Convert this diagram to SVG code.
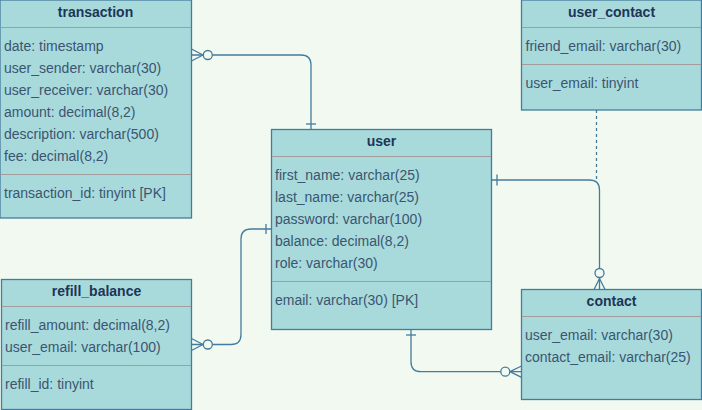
<svg xmlns="http://www.w3.org/2000/svg" width="702" height="410" viewBox="0 0 702 410">
<style>
.box{fill:#a8dadc;stroke:#457b9d;stroke-width:1.3}
.div{stroke:#a39c9c;stroke-width:1}
.t{font-family:"Liberation Sans",Arial,sans-serif;font-size:14px;font-weight:bold;fill:#1d3557;text-anchor:middle}
.a{font-family:"Liberation Sans",Arial,sans-serif;font-size:14px;fill:#3b5570}
.c{fill:none;stroke:#457b9d;stroke-width:1.3}
.o{fill:#f1f9f0;stroke:#457b9d;stroke-width:1.3}
</style>
<rect width="702" height="410" fill="#f1f9f0"/>
<g id="connectors">
<path class="c" d="M191.5,55 H301 Q311,55 311,65 V129.5"/>
<path class="c" d="M191.5,49 L203,55 M191.5,61 L203,55"/>
<circle class="o" cx="207.8" cy="55" r="4.5"/>
<path class="c" d="M306,124 H316"/>
<path class="c" d="M191.5,344.5 H231 Q241,344.5 241,334.5 V239 Q241,229 251,229 H271.5"/>
<path class="c" d="M191.5,338.5 L203,344.5 M191.5,350.5 L203,344.5"/>
<circle class="o" cx="207.8" cy="344.5" r="4.5"/>
<path class="c" d="M266,224 V234"/>
<path class="c" d="M411,329.5 V361.7 Q411,371.7 421,371.7 H521.5"/>
<path class="c" d="M406,335 H416"/>
<path class="c" d="M521.5,366 L510,371.7 M521.5,377.4 L510,371.7"/>
<circle class="o" cx="505.3" cy="371.7" r="4.5"/>
<path class="c" d="M491.5,180 H589.5 Q599.5,180 599.5,190 V289.5"/>
<path class="c" d="M497,174.5 V185.5"/>
<path class="c" d="M594,289.5 L599.5,278.5 M605,289.5 L599.5,278.5"/>
<circle class="o" cx="599.5" cy="273" r="4.5"/>
<path class="c" d="M596.5,110 V180" stroke-dasharray="3,3"/>
</g>
<g id="transaction">
<rect class="box" x="0" y="0" width="191.5" height="218"/>
<text class="t" x="95.5" y="17">transaction</text>
<line class="div" x1="0.5" y1="27.5" x2="191" y2="27.5"/>
<text class="a" x="4" y="51">date: timestamp</text>
<text class="a" x="4" y="73">user_sender: varchar(30)</text>
<text class="a" x="4" y="95">user_receiver: varchar(30)</text>
<text class="a" x="4" y="117">amount: decimal(8,2)</text>
<text class="a" x="4" y="139">description: varchar(500)</text>
<text class="a" x="4" y="161">fee: decimal(8,2)</text>
<line class="div" x1="0.5" y1="174.5" x2="191" y2="174.5"/>
<text class="a" x="4" y="198">transaction_id: tinyint [PK]</text>
</g>
<g id="user_contact">
<rect class="box" x="521.5" y="0" width="180" height="110"/>
<text class="t" x="611.5" y="17">user_contact</text>
<line class="div" x1="522" y1="27.5" x2="701" y2="27.5"/>
<text class="a" x="525.5" y="51">friend_email: varchar(30)</text>
<line class="div" x1="522" y1="64.5" x2="701" y2="64.5"/>
<text class="a" x="525.5" y="88">user_email: tinyint</text>
</g>
<g id="user">
<rect class="box" x="271.5" y="129.5" width="220" height="200"/>
<text class="t" x="381.5" y="146">user</text>
<line class="div" x1="272" y1="156.5" x2="491" y2="156.5"/>
<text class="a" x="275" y="180">first_name: varchar(25)</text>
<text class="a" x="275" y="202">last_name: varchar(25)</text>
<text class="a" x="275" y="224">password: varchar(100)</text>
<text class="a" x="275" y="246">balance: decimal(8,2)</text>
<text class="a" x="275" y="268">role: varchar(30)</text>
<line class="div" x1="272" y1="281.5" x2="491" y2="281.5"/>
<text class="a" x="275" y="305">email: varchar(30) [PK]</text>
</g>
<g id="refill_balance">
<rect class="box" x="1.5" y="279.5" width="190" height="130"/>
<text class="t" x="96.5" y="296">refill_balance</text>
<line class="div" x1="2" y1="306.5" x2="191" y2="306.5"/>
<text class="a" x="5" y="330">refill_amount: decimal(8,2)</text>
<text class="a" x="5" y="352">user_email: varchar(100)</text>
<line class="div" x1="2" y1="365.5" x2="191" y2="365.5"/>
<text class="a" x="5" y="389">refill_id: tinyint</text>
</g>
<g id="contact">
<rect class="box" x="521.5" y="289.5" width="180" height="110"/>
<text class="t" x="611.5" y="306">contact</text>
<line class="div" x1="522" y1="316.5" x2="701" y2="316.5"/>
<text class="a" x="525" y="340">user_email: varchar(30)</text>
<text class="a" x="525" y="362">contact_email: varchar(25)</text>
</g>
</svg>
